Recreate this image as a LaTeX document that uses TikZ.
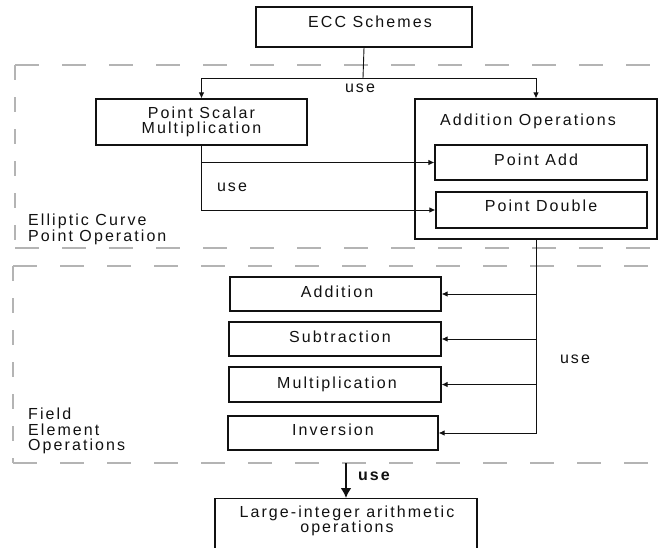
\documentclass[tikz,border=0pt]{standalone}
\usepackage{fontspec}
\setmainfont{Liberation Sans}[LetterSpace=13]
\usetikzlibrary{arrows.meta}

\definecolor{ink}{HTML}{111111}
\definecolor{framegray}{HTML}{B4B4B4}

\begin{document}
\begin{tikzpicture}[x=1pt,y=-1pt,
  every node/.style={font=\fontsize{16}{15.5}\selectfont, inner sep=0pt, text=ink, align=center},
  box/.style={draw=ink, line width=1.2pt},
  link/.style={draw=ink, line width=0.9pt},
  arr/.style={link, -{Latex[length=6pt,width=5.5pt]}},
  bigarr/.style={draw=ink, line width=2pt, -{Latex[length=10pt,width=11pt]}},
  hdash/.style={draw=framegray, line width=1.5pt, dash pattern=on 24pt off 23pt},
  vdash/.style={draw=framegray, line width=1.5pt, dash pattern=on 15pt off 17pt},
  caption/.style={align=left, anchor=west}]

\useasboundingbox (0,0) rectangle (668,547);
\clip (0,0) rectangle (668,547);

% group frames (open towards the right edge)
\draw[hdash] (15,65) -- (680,65);
\draw[hdash] (15,248) -- (680,248);
\draw[vdash] (15,65) -- (15,248);
\draw[hdash] (13,266) -- (680,266);
\draw[hdash] (13,463) -- (680,463);
\draw[vdash] (13,266) -- (13,463);

% top level
\node[box, minimum width=216, minimum height=40] (ecc) at (364,27) {};
\node (ecctxt) at (370,22) {ECC Schemes};

% elliptic curve point operations
\node[box, minimum width=211, minimum height=46] (psm) at (201.5,122)
  {Point Scalar\\Multiplication};
\node[box, minimum width=242, minimum height=140] (addops) at (536,169) {};
\node (addlbl) at (528,121) {Addition Operations};
\node[box, minimum width=212, minimum height=35] (padd) at (541,162.5) {};
\node (paddtxt) at (536,160) {Point Add};
\node[box, minimum width=211, minimum height=36] (pdbl) at (541.5,210) {};
\node (pdbltxt) at (541,206) {Point Double};
\node[caption] (eclbl) at (28,229.5) {Elliptic Curve\\Point Operation};

% field element operations
\node[box, minimum width=211, minimum height=34] (fadd) at (335.5,294) {};
\node (faddtxt) at (337,292) {Addition};
\node[box, minimum width=212, minimum height=34] (fsub) at (335,339) {};
\node (fsubtxt) at (340,337) {Subtraction};
\node[box, minimum width=212, minimum height=35] (fmul) at (335,384.5) {};
\node (fmultxt) at (337,384) {Multiplication};
\node[box, minimum width=210, minimum height=34] (finv) at (333,433) {};
\node (finvtxt) at (333,430) {Inversion};
\node[caption] (felbl) at (28,431) {Field\\Element\\Operations};

% large-integer layer
\node[box, minimum width=262, minimum height=70, anchor=north] (lia) at (346,498) {};
\node (liatxt) at (347,521) {Large-integer arithmetic\\operations};

% connectors
\coordinate (split) at (363,78);
\draw[link] (ecc.south) -- (split);
\draw[link] (psm.north |- split) -- (addops.north |- split);
\draw[arr] (psm.north |- split) -- (psm.north);
\draw[arr] (addops.north |- split) -- (addops.north);
\node (use1) at (360,88) {use};

\draw[arr] (psm.south) |- (pdbl.west);
\draw[arr] (psm.south |- padd.west) -- (padd.west);
\node (use2) at (232,187) {use};

\draw[arr] (addops.south) |- (finv.east);
\draw[arr] (addops.south |- fadd.east) -- (fadd.east);
\draw[arr] (addops.south |- fsub.east) -- (fsub.east);
\draw[arr] (addops.south |- fmul.east) -- (fmul.east);
\node (use3) at (575,359) {use};

\coordinate (fieldout) at (346,463);
\draw[bigarr] (fieldout) -- (lia.north);
\node[font=\fontsize{16}{15.5}\selectfont\bfseries] (use4) at (374,476) {use};

\end{tikzpicture}
\end{document}
